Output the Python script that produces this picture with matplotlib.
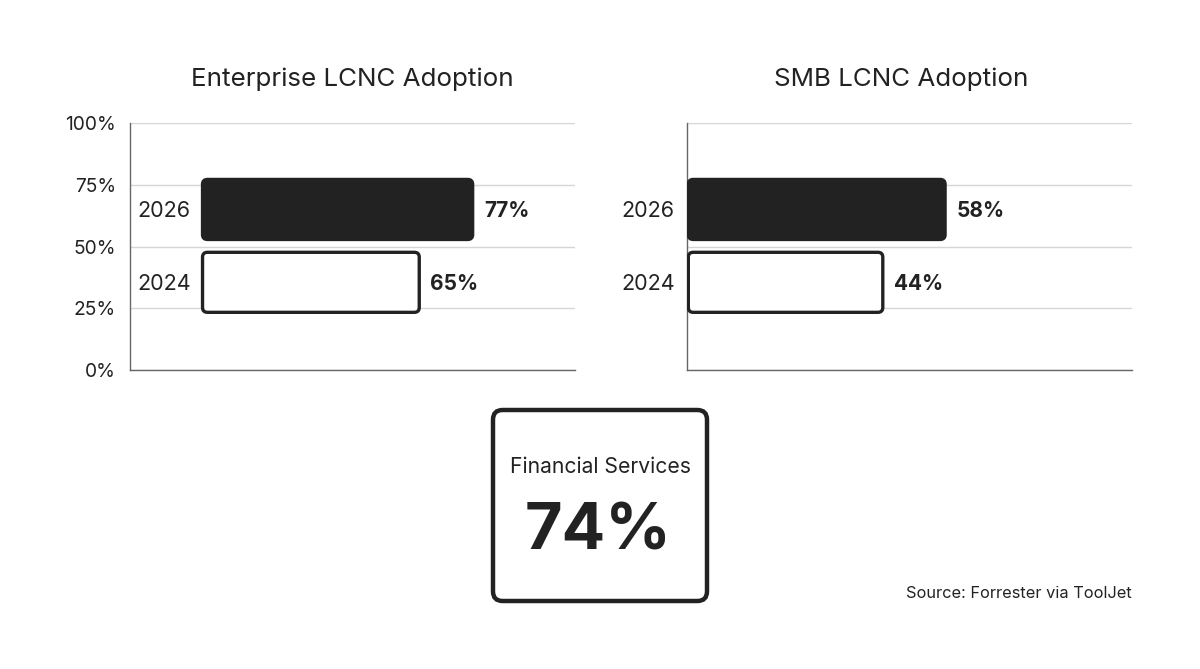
import matplotlib.pyplot as plt
from matplotlib.patches import FancyBboxPatch

plt.rcParams['font.family'] = ['Inter', 'DejaVu Sans']

years = ["2026", "2024"]
enterprise = [77, 65]
smb = [58, 44]
titles = ["Enterprise LCNC Adoption", "SMB LCNC Adoption"]
highlight_label = "Financial Services"
highlight_value = "74%"
source = "Source: Forrester via ToolJet"

DARK = "#222222"
centers = [65, 35.5]
bar_h = 24.3

fig = plt.figure(figsize=(12, 6.69), dpi=100)
ax1 = fig.add_axes([130 / 1200, 1 - 370 / 669, 445 / 1200, 247 / 669])
ax2 = fig.add_axes([687 / 1200, 1 - 370 / 669, 445 / 1200, 247 / 669])

# px per data unit, used to keep the corners round
aspect = (445 / 100) / (247 / 100)


def draw_panel(ax, values, title, start, label_x, label_ha, show_ticks, title_x):
    ax.set_xlim(0, 100)
    ax.set_ylim(0, 100)
    ax.set_yticks([0, 25, 50, 75, 100])
    if show_ticks:
        ax.set_yticklabels([f"{t}%" for t in [0, 25, 50, 75, 100]])
    else:
        ax.set_yticklabels([])
    ax.tick_params(axis='y', length=0, pad=10, labelsize=13.8, labelcolor=DARK)
    ax.set_xticks([])
    ax.grid(axis='y', color="#d6d6d6", linewidth=1)
    ax.set_axisbelow(True)
    for s in ["top", "right"]:
        ax.spines[s].set_visible(False)
    for s in ["left", "bottom"]:
        ax.spines[s].set_color("#666666")
        ax.spines[s].set_linewidth(1)
    ax.set_title(title, fontsize=18.7, color=DARK, pad=27, x=title_x)

    for i, (yr, v) in enumerate(zip(years, values)):
        y0 = centers[i] - bar_h / 2
        filled = i == 0
        box = FancyBboxPatch((start, y0), v - start, bar_h,
                             boxstyle="round,pad=0,rounding_size=1.1",
                             mutation_aspect=aspect,
                             facecolor=DARK if filled else "white",
                             edgecolor=DARK, linewidth=2.4, zorder=3)
        ax.add_patch(box)
        ax.text(v + 2.5, centers[i] - 0.8, f"{v}%", fontsize=15, fontweight='bold',
                color=DARK, va='center', ha='left')
        ax.text(label_x, centers[i] - 0.8, yr, fontsize=15.5, color=DARK,
                va='center', ha=label_ha, clip_on=False)


draw_panel(ax1, enterprise, titles[0], 16.3, 1.6, 'left', True, 0.5)
draw_panel(ax2, smb, titles[1], 0.3, -2.7, 'right', False, 0.482)

# highlight card
card = FancyBboxPatch((493 / 1200, 1 - 601 / 669), 214 / 1200, 191 / 669,
                      boxstyle="round,pad=0,rounding_size=0.008",
                      mutation_aspect=1200 / 669,
                      transform=fig.transFigure, facecolor="white",
                      edgecolor=DARK, linewidth=3.2)
fig.patches.append(card)
fig.text(600 / 1200, 1 - 467 / 669, highlight_label, fontsize=15.2,
         color=DARK, ha='center', va='center')
fig.text(598 / 1200, 1 - 550 / 669, highlight_value, fontsize=46.5,
         fontweight='bold', color=DARK, ha='center', va='baseline')

fig.text(1132 / 1200, 1 - 594 / 669, source, fontsize=11.8, color=DARK,
         ha='right', va='center')

fig.savefig("out.png", dpi=100, facecolor="white")
